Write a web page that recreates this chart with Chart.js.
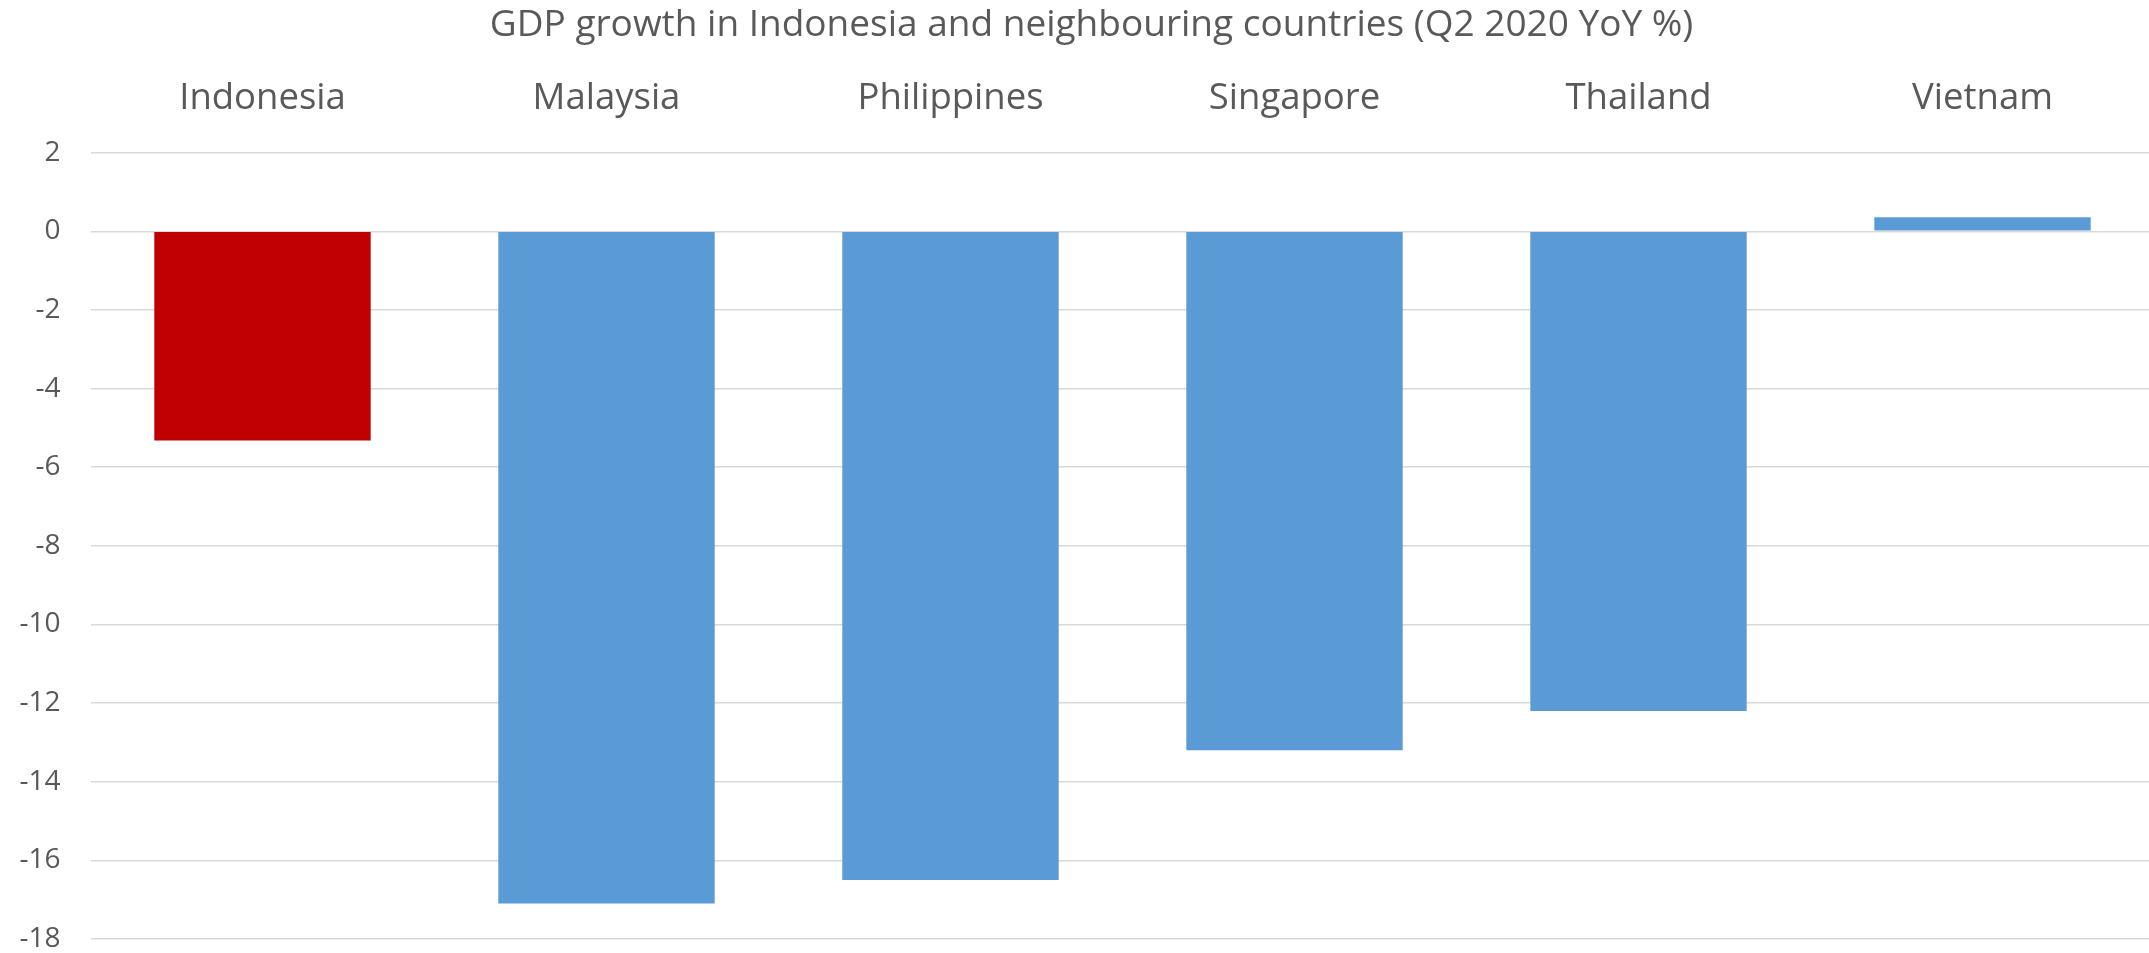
<!DOCTYPE html>
<html>
<head>
<meta charset="utf-8">
<title>GDP growth in Indonesia and neighbouring countries</title>
<script src="https://cdn.jsdelivr.net/npm/chart.js@4"></script>
<style>
    html, body { margin: 0; padding: 0; background: #ffffff; overflow: hidden; }
    #wrap { position: relative; width: 2183px; height: 953px; }
</style>
</head>
<body>
<div id="wrap"><canvas id="gdpChart"></canvas></div>
<script>
// Q2 2020 year-on-year GDP growth, %
const countries = ['Indonesia', 'Malaysia', 'Philippines', 'Singapore', 'Thailand', 'Vietnam'];
const gdpGrowth = [-5.32, -17.1, -16.5, -13.2, -12.2, 0.36];
const yTicks = [2, 0, -2, -4, -6, -8, -10, -12, -14, -16, -18];
const highlighted = 'Indonesia';

const textColor = '#595959';
const gridColor = '#d9d9d9';
const fontFamily = '"Open Sans", "Noto Sans", sans-serif';

const ctx = document.getElementById('gdpChart').getContext('2d');

new Chart(ctx, {
    type: 'bar',
    data: {
        labels: countries,
        datasets: [{
            label: 'GDP growth (Q2 2020 YoY %)',
            data: gdpGrowth,
            // the home country stands out in red, neighbours in blue
            backgroundColor: c => countries[c.dataIndex] === highlighted ? '#c00000' : '#5b9bd5',
            borderWidth: 0,
            categoryPercentage: 1,
            barPercentage: 0.629
        }]
    },
    options: {
        responsive: true,
        maintainAspectRatio: false,
        animation: false,
        layout: {
            autoPadding: false,
            padding: { left: 0, right: 0, top: 0, bottom: 14 }
        },
        plugins: {
            legend: { display: false },
            tooltip: { enabled: false },
            title: {
                display: true,
                text: 'GDP growth in Indonesia and neighbouring countries (Q2 2020 YoY %)',
                color: textColor,
                font: { family: fontFamily, size: 37, weight: 'normal' },
                padding: { top: 3.5, bottom: -3 }
            }
        },
        scales: {
            x: {
                position: 'top',
                grid: { display: false, drawTicks: false },
                border: { display: false },
                ticks: {
                    color: textColor,
                    font: { family: fontFamily, size: 36.5 },
                    padding: 32,
                    maxRotation: 0
                }
            },
            y: {
                min: yTicks[yTicks.length - 1],
                max: yTicks[0],
                afterBuildTicks: scale => {
                    scale.ticks = yTicks.map(v => ({ value: v }));
                },
                afterFit: scale => {
                    // fixed gutter for the tick labels, no extra room above/below the plot
                    scale.width = 90.5;
                    scale.paddingTop = 0;
                    scale.paddingBottom = 0;
                },
                grid: {
                    color: gridColor,
                    lineWidth: 1.5,
                    drawTicks: false
                },
                border: { display: false },
                ticks: {
                    color: textColor,
                    font: { family: fontFamily, size: 28 },
                    padding: 30
                }
            },
            // empty strip on the right so the plot stops short of the canvas edge
            yRight: {
                position: 'right',
                display: true,
                afterFit: scale => {
                    scale.width = 28.5;
                    scale.paddingTop = 0;
                    scale.paddingBottom = 0;
                },
                grid: { display: false, drawTicks: false },
                border: { display: false },
                ticks: { display: false }
            }
        }
    }
});
</script>
</body>
</html>
